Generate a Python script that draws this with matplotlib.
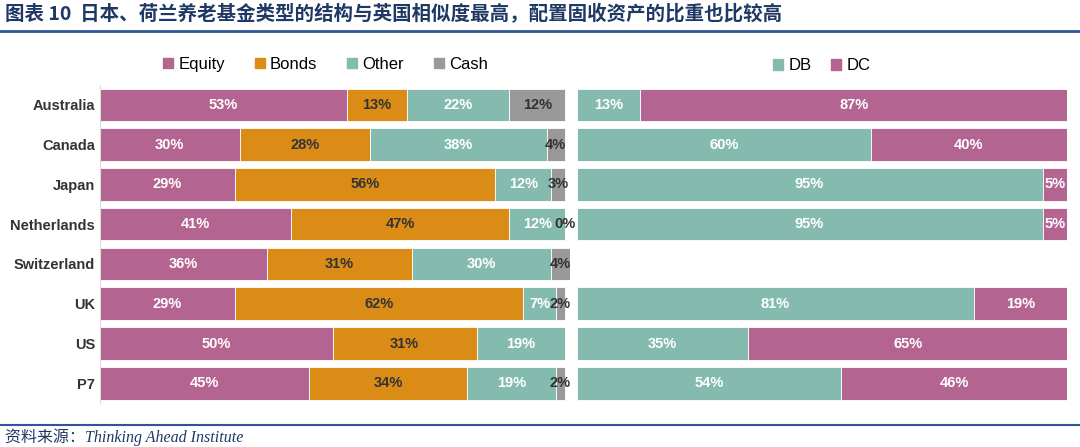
import numpy as np
import matplotlib.pyplot as plt
from matplotlib.patches import Patch

plt.rcParams['font.family'] = ['Liberation Sans', 'Noto Sans CJK SC', 'DejaVu Sans']

countries = ['Australia', 'Canada', 'Japan', 'Netherlands', 'Switzerland', 'UK', 'US', 'P7']
equity = [53, 30, 29, 41, 36, 29, 50, 45]
bonds = [13, 28, 56, 47, 31, 62, 31, 34]
other = [22, 38, 12, 12, 30, 7, 19, 19]
cash = [12, 4, 3, 0, 4, 2, None, 2]   # US has no cash label in the source
db = [13, 60, 95, 95, None, 81, 35, 54]
dc = [87, 40, 5, 5, None, 19, 65, 46]

c_eq, c_bd, c_ot, c_ca = '#B46491', '#DB8C17', '#85BBAF', '#999999'

fig = plt.figure(figsize=(10.8, 4.47), dpi=100)
y = np.arange(len(countries))

def stack(ax, series, colors, txtcolors):
    left = np.zeros(len(countries))
    for vals, col, tc in zip(series, colors, txtcolors):
        for i, v in enumerate(vals):
            if v is None:
                continue
            ax.barh(y[i], v, left=left[i], height=0.82, color=col, edgecolor='white', linewidth=0.6)
            ax.text(left[i] + v / 2, y[i], f'{v}%', ha='center', va='center',
                    color=tc, fontsize=10.5, fontweight='bold')
            left[i] += v
    ax.set_ylim(len(countries) - 0.5, -0.5)
    for s in ax.spines.values():
        s.set_visible(False)
    ax.set_xticks([])
    ax.tick_params(axis='y', length=0)

ax1 = fig.add_axes([0.0926, 0.098, 0.435, 0.712])
stack(ax1, [equity, bonds, other, cash], [c_eq, c_bd, c_ot, c_ca],
      ['white', '#333333', 'white', '#333333'])
ax1.set_xlim(0, 101)
ax1.set_yticks(y)
ax1.set_yticklabels(countries, fontsize=10.5, fontweight='bold', color='#333333')
ax1.spines['left'].set_visible(True)
ax1.spines['left'].set_color('#dddddd')

ax2 = fig.add_axes([0.534, 0.098, 0.454, 0.712])
stack(ax2, [db, dc], [c_ot, c_eq], ['white', 'white'])
ax2.set_xlim(0, 100)
ax2.set_yticks([])

ax1.legend([Patch(color=c) for c in [c_eq, c_bd, c_ot, c_ca]], ['Equity', 'Bonds', 'Other', 'Cash'],
           loc='center', bbox_to_anchor=(0.48, 1.065), ncol=4, frameon=False, fontsize=12,
           handlelength=0.6, handleheight=0.6, handletextpad=0.3, columnspacing=1.8)
ax2.legend([Patch(color=c) for c in [c_ot, c_eq]], ['DB', 'DC'],
           loc='center', bbox_to_anchor=(0.5, 1.06), ncol=2, frameon=False, fontsize=12,
           handlelength=0.6, handleheight=0.6, handletextpad=0.3, columnspacing=1.2)

fig.text(0.005, 0.968, '图表 10  日本、荷兰养老基金类型的结构与英国相似度最高，配置固收资产的比重也比较高',
         fontsize=14, fontweight='bold', color='#1F3864', va='center', family=['Noto Sans CJK SC'])
fig.add_artist(plt.Line2D([0, 1], [0.93, 0.93], color='#2F5597', linewidth=2))
fig.add_artist(plt.Line2D([0, 1], [0.05, 0.05], color='#2F5597', linewidth=1.5))
fig.text(0.005, 0.022, '资料来源：Thinking Ahead Institute', fontsize=11.5, style='italic',
         color='#1F3864', va='center', family=['Liberation Serif', 'Noto Sans CJK SC'])

fig.savefig('out.png', dpi=100)
